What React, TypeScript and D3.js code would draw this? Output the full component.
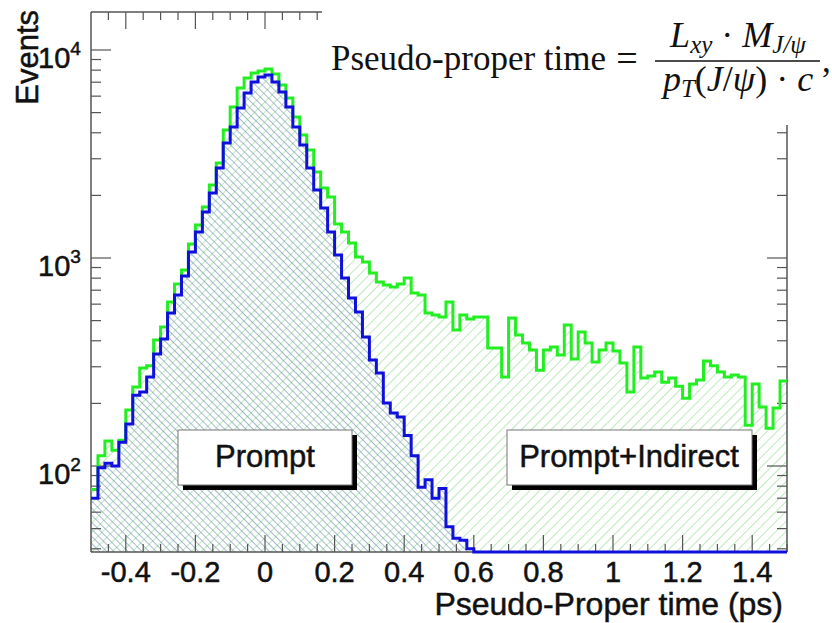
import React from "react";
import * as d3 from "d3";

// Histogram binning: 100 bins of 0.02 ps starting at -0.5 ps
const binLow = -0.5;
const binWidth = 0.02;

// Prompt + indirect J/psi candidates per bin
const promptIndirectCounts = [
  77, 112, 132, 119, 133, 186, 240, 296, 303, 404,
  466, 614, 750, 876, 1168, 1441, 1759, 2244, 2862, 4125,
  5321, 6566, 7335, 7752, 7925, 8102, 7665, 6787, 5880, 4762,
  3903, 3306, 2592, 2170, 1965, 1457, 1334, 1181, 1011, 957,
  847, 767, 742, 726, 750, 802, 679, 664, 544, 532,
  520, 614, 451, 532, 509, 520, 520, 369, 369, 268,
  515, 427, 390, 361, 289, 361, 373, 342, 476, 327,
  441, 390, 316, 361, 390, 357, 313, 227, 373, 265,
  271, 283, 253, 265, 242, 212, 248, 259, 320, 303,
  283, 268, 274, 268, 157, 248, 192, 152, 190, 256,
];

// Prompt-only J/psi candidates per bin
const promptCounts = [
  70, 98, 103, 100, 130, 159, 219, 227, 268, 346,
  408, 544, 664, 819, 1069, 1334, 1664, 2053, 2708, 3572,
  4265, 5262, 6213, 7018, 7417, 7583, 7018, 6283, 5321, 4265,
  3494, 2708, 2123, 1740, 1334, 1034, 802, 642, 550, 417,
  323, 280, 201, 180, 172, 140, 112, 79, 86, 70,
  78, 51, 45, 44, 40, 0, 0, 0, 0, 0,
  0, 0, 0, 0, 0, 0, 0, 0, 0, 0,
  0, 0, 0, 0, 0, 0, 0, 0, 0, 0,
  0, 0, 0, 0, 0, 0, 0, 0, 0, 0,
  0, 0, 0, 0, 0, 0, 0, 0, 0, 0,
];

const xRange: [number, number] = [-0.5, 1.5];
const yRange: [number, number] = [38.6, 15230];
const xMajorTicks = [-0.4, -0.2, 0, 0.2, 0.4, 0.6, 0.8, 1, 1.2, 1.4];
const xTickLabels = ["-0.4", "-0.2", "0", "0.2", "0.4", "0.6", "0.8", "1", "1.2", "1.4"];
const yDecades = [100, 1000, 10000];
const yDecadeExponents = ["2", "3", "4"];

const W = 832;
const H = 623;
const frame = { left: 91, right: 787, top: 12, bottom: 552 };
const SANS = "'Liberation Sans', Arial, Helvetica, sans-serif";
const SERIF = "'Liberation Serif', 'Times New Roman', Times, serif";
const INK = "#111";

export default function App() {
  const x = d3.scaleLinear().domain(xRange).range([frame.left, frame.right]);
  const y = d3.scaleLog().domain(yRange).range([frame.bottom, frame.top]);
  const yc = (v: number) => y(Math.max(v, yRange[0]));

  const steps = (counts: number[]) => {
    const pts: [number, number][] = counts.map((c, i) => [binLow + i * binWidth, c]);
    pts.push([binLow + counts.length * binWidth, counts[counts.length - 1]]);
    return pts;
  };

  const line = d3
    .line<[number, number]>()
    .x((d) => x(d[0]))
    .y((d) => yc(d[1]))
    .curve(d3.curveStepAfter);
  const area = d3
    .area<[number, number]>()
    .x((d) => x(d[0]))
    .y0(frame.bottom)
    .y1((d) => yc(d[1]))
    .curve(d3.curveStepAfter);

  const greenPts = steps(promptIndirectCounts);
  const bluePts = steps(promptCounts);

  // tick positions
  const xMinor = d3.range(-0.45, 1.5001, 0.05).map((v) => Math.round(v * 100) / 100);
  const yTicks: { v: number; major: boolean }[] = [];
  for (let dec = 10; dec <= 10000; dec *= 10) {
    for (let m = 1; m <= 9; m++) {
      const v = dec * m;
      if (v >= yRange[0] && v <= yRange[1]) yTicks.push({ v, major: m === 1 });
    }
  }

  const axisColor = "#555";
  const topAxisEnd = 322;
  const rightAxisStart = 125;
  const sansInk = { fill: INK, stroke: INK, strokeWidth: 0.5 };

  return (
    <svg
      width={W}
      height={H}
      viewBox={`0 0 ${W} ${H}`}
      style={{ position: "absolute", left: 0, top: 0, background: "#fff" }}
    >
      <defs>
        <pattern id="hatchGreen" width="7" height="7" patternUnits="userSpaceOnUse" patternTransform="rotate(45)">
          <line x1="0" y1="0" x2="0" y2="7" stroke="#8fdc8f" strokeWidth="1.2" />
        </pattern>
        <pattern id="hatchBlue" width="5" height="5" patternUnits="userSpaceOnUse" patternTransform="rotate(-45)">
          <line x1="0" y1="0" x2="0" y2="5" stroke="#6d8daf" strokeWidth="1.2" />
        </pattern>
        <clipPath id="frameClip">
          <rect x={frame.left} y={frame.top} width={frame.right - frame.left} height={frame.bottom - frame.top} />
        </clipPath>
        <clipPath id="lineClip">
          <rect x={frame.left} y={frame.top} width={frame.right - frame.left} height={frame.bottom - frame.top + 2} />
        </clipPath>
      </defs>

      <rect x={0} y={0} width={W} height={H} fill="#fff" />

      {/* hatched histogram fills */}
      <g clipPath="url(#frameClip)">
        <path d={area(greenPts) ?? ""} fill="url(#hatchGreen)" />
        <path d={area(bluePts) ?? ""} fill="url(#hatchBlue)" />
      </g>

      {/* frame */}
      <g stroke={axisColor} strokeWidth={1.5} fill="none">
        <line x1={frame.left} y1={frame.top} x2={frame.left} y2={frame.bottom} />
        <line x1={frame.left} y1={frame.bottom} x2={frame.right} y2={frame.bottom} />
        <line x1={frame.left} y1={frame.top} x2={topAxisEnd} y2={frame.top} />
        <line x1={frame.right} y1={rightAxisStart} x2={frame.right} y2={frame.bottom} />
      </g>

      {/* x ticks, bottom and top */}
      <g stroke={axisColor} strokeWidth={1.2}>
        {xMinor.map((v) => {
          const isMajor = xMajorTicks.some((t) => Math.abs(t - v) < 1e-6);
          const len = isMajor ? 17 : 8;
          const px = x(v);
          return (
            <g key={`xt${v}`}>
              <line x1={px} y1={frame.bottom} x2={px} y2={frame.bottom - len} />
              {px < topAxisEnd && <line x1={px} y1={frame.top} x2={px} y2={frame.top + len} />}
            </g>
          );
        })}
      </g>

      {/* y ticks, left and right */}
      <g stroke={axisColor} strokeWidth={1.2}>
        {yTicks.map((t) => {
          const len = t.major ? 20 : 10;
          const py = y(t.v);
          return (
            <g key={`yt${t.v}`}>
              <line x1={frame.left} y1={py} x2={frame.left + len} y2={py} />
              {py > rightAxisStart && <line x1={frame.right} y1={py} x2={frame.right - len} y2={py} />}
            </g>
          );
        })}
      </g>

      {/* histogram outlines */}
      <g clipPath="url(#lineClip)">
        <path d={line(greenPts) ?? ""} fill="none" stroke="#22ee22" strokeWidth={3} />
        <path d={line(bluePts) ?? ""} fill="none" stroke="#1010dd" strokeWidth={3} />
      </g>

      {/* x tick labels */}
      <g fontFamily={SANS} fontSize={29} textAnchor="middle" {...sansInk}>
        {xMajorTicks.map((v, i) => (
          <text key={`xl${v}`} x={x(v)} y={582}>
            {xTickLabels[i]}
          </text>
        ))}
      </g>

      {/* y tick labels */}
      <g fontFamily={SANS} {...sansInk}>
        {yDecades.map((v, i) => (
          <text key={`yl${v}`} x={38} y={y(v) + 18} fontSize={29}>
            10
            <tspan fontSize={19} dy={-13}>
              {yDecadeExponents[i]}
            </tspan>
          </text>
        ))}
      </g>

      {/* axis titles */}
      <text x={783} y={615} fontFamily={SANS} fontSize={32} textAnchor="end" {...sansInk}>
        Pseudo-Proper time (ps)
      </text>
      <text
        transform="translate(38,10) rotate(-90)"
        fontFamily={SANS}
        fontSize={31}
        textAnchor="end"
        {...sansInk}
      >
        Events
      </text>

      {/* legend boxes */}
      <g fontFamily={SANS}>
        <rect x={183} y={435} width={174} height={55} fill="#000" />
        <rect x={178} y={430} width={174} height={55} fill="#fff" stroke="#777" strokeWidth={1} />
        <text x={265} y={467} fontSize={31} textAnchor="middle" {...sansInk}>
          Prompt
        </text>

        <rect x={512} y={435} width={245} height={55} fill="#000" />
        <rect x={507} y={430} width={245} height={55} fill="#fff" stroke="#777" strokeWidth={1} />
        <text x={629} y={467} fontSize={31} textAnchor="middle" {...sansInk}>
          Prompt+Indirect
        </text>
      </g>

      {/* definition formula */}
      <rect x={topAxisEnd} y={0} width={W - topAxisEnd} height={rightAxisStart} fill="#fff" />
      <g fontFamily={SERIF} fill={INK}>
        <text x={331} y={70} fontSize={35}>
          Pseudo-proper time
        </text>
        <text x={627} y={71} fontSize={38} textAnchor="middle">
          =
        </text>
        <line x1={655} y1={61} x2={820} y2={61} stroke={INK} strokeWidth={1.6} />
        <text x={738} y={47} fontSize={36} textAnchor="middle">
          <tspan fontStyle="italic">L</tspan>
          <tspan fontStyle="italic" fontSize={25} dy={6}>xy</tspan>
          <tspan dy={-6}> · </tspan>
          <tspan fontStyle="italic">M</tspan>
          <tspan fontStyle="italic" fontSize={25} dy={6}>J/ψ</tspan>
        </text>
        <text x={738} y={91} fontSize={36} textAnchor="middle">
          <tspan fontStyle="italic">p</tspan>
          <tspan fontStyle="italic" fontSize={25} dy={6}>T</tspan>
          <tspan dy={-6}>(</tspan>
          <tspan fontStyle="italic">J</tspan>
          <tspan>/</tspan>
          <tspan fontStyle="italic">ψ</tspan>
          <tspan>) · </tspan>
          <tspan fontStyle="italic">c</tspan>
        </text>
        <text x={822} y={72} fontSize={35}>
          ,
        </text>
      </g>
    </svg>
  );
}
